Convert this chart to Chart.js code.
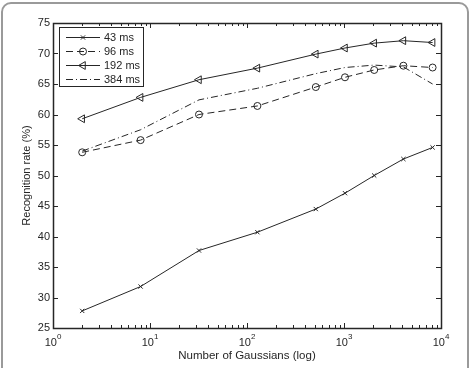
<!DOCTYPE html>
<html>
<head>
<meta charset="utf-8">
<script src="https://cdn.jsdelivr.net/npm/chart.js@4"></script>
<style>
    body { margin: 0; background: #fff; }
    #wrap { position: relative; width: 472px; height: 368px; overflow: hidden; }
    #frame { position: absolute; left: 1px; top: 2px; width: 464px; height: 420px; border: 2px solid #9a9a9a; border-radius: 10px; }
    #chart { position: absolute; left: 0; top: 0; }
</style>
</head>
<body>
<div id="wrap">
    <div id="frame"></div>
    <canvas id="chart" width="472" height="368"></canvas>
</div>
<script>
const gaussians = [2, 8, 32, 128, 512, 1024, 2048, 4096, 8192];
const rate43 = [27.8, 31.8, 37.7, 40.7, 44.5, 47.1, 50.0, 52.7, 54.6];
const rate96 = [53.8, 55.8, 60.0, 61.4, 64.5, 66.1, 67.3, 68.0, 67.7];
const rate192 = [59.3, 62.8, 65.7, 67.6, 69.9, 70.9, 71.7, 72.1, 71.8];
const rate384 = [54.0, 57.5, 62.4, 64.3, 66.7, 67.7, 68.1, 67.8, 65.0];
const seriesLabels = ['43 ms', '96 ms', '192 ms', '384 ms'];
const xExponents = [0, 1, 2, 3, 4];
const yTicks = [25, 30, 35, 40, 45, 50, 55, 60, 65, 70, 75];

const FONT = '"Liberation Sans", Arial, Helvetica, sans-serif';
const INK = '#262626';

const toPoints = values => values.map((v, i) => ({ x: gaussians[i], y: v }));

const matlabAxes = {
    id: 'matlabAxes',
    afterDatasetsDraw(chart) {
        const ctx = chart.ctx;
        const area = chart.chartArea;
        const xs = chart.scales.x;
        const ys = chart.scales.y;
        ctx.save();
        ctx.strokeStyle = INK;
        ctx.lineWidth = 1;
        ctx.beginPath();
        // x ticks, inward on bottom and top
        xExponents.forEach(e => {
            const mults = e < 4 ? [1, 2, 3, 4, 5, 6, 7, 8, 9] : [1];
            mults.forEach(m => {
                const px = Math.round(xs.getPixelForValue(m * Math.pow(10, e))) + 0.5;
                const len = m === 1 ? 5 : 3;
                ctx.moveTo(px, area.bottom);
                ctx.lineTo(px, area.bottom - len);
                ctx.moveTo(px, area.top);
                ctx.lineTo(px, area.top + len);
            });
        });
        // y ticks, inward on left and right
        yTicks.forEach(v => {
            const py = Math.round(ys.getPixelForValue(v)) + 0.5;
            ctx.moveTo(area.left, py);
            ctx.lineTo(area.left + 5, py);
            ctx.moveTo(area.right, py);
            ctx.lineTo(area.right - 5, py);
        });
        ctx.stroke();
        ctx.lineWidth = 1.5;
        ctx.strokeRect(Math.round(area.left) + 0.5, Math.round(area.top) + 0.5,
            Math.round(area.right - area.left), Math.round(area.bottom - area.top));

        // x tick labels 10^n
        ctx.fillStyle = INK;
        ctx.textBaseline = 'alphabetic';
        ctx.textAlign = 'left';
        xExponents.forEach(e => {
            const px = xs.getPixelForValue(Math.pow(10, e));
            ctx.font = '11px ' + FONT;
            const wBase = ctx.measureText('10').width;
            ctx.font = '8px ' + FONT;
            const wExp = ctx.measureText(String(e)).width;
            const start = px - (wBase + wExp) / 2;
            ctx.font = '11px ' + FONT;
            ctx.fillText('10', start, 346);
            ctx.font = '8px ' + FONT;
            ctx.fillText(String(e), start + wBase, 339);
        });
        ctx.restore();
    },
    afterDraw(chart) {
        const ctx = chart.ctx;
        ctx.save();
        ctx.fillStyle = '#fff';
        ctx.fillRect(59, 27, 84, 60);
        ctx.strokeStyle = INK;
        ctx.lineWidth = 1;
        ctx.strokeRect(59.5, 27.5, 84, 59);
        chart.data.datasets.forEach((ds, i) => {
            const y = 37.5 + i * 14;
            ctx.strokeStyle = ds.borderColor;
            ctx.lineWidth = ds.borderWidth;
            ctx.setLineDash(ds.borderDash || []);
            ctx.beginPath();
            ctx.moveTo(66, y);
            ctx.lineTo(100, y);
            ctx.stroke();
            ctx.setLineDash([]);
            if (ds.pointRadius > 0) {
                ctx.fillStyle = 'rgba(0,0,0,0)';
                Chart.helpers.drawPoint(ctx, {
                    pointStyle: ds.pointStyle,
                    rotation: ds.pointRotation || 0,
                    radius: ds.pointRadius,
                    borderWidth: ds.pointBorderWidth
                }, 83, y);
            }
            ctx.fillStyle = INK;
            ctx.font = '11px ' + FONT;
            ctx.textBaseline = 'middle';
            ctx.textAlign = 'left';
            ctx.fillText(ds.label, 104, y);
        });
        ctx.restore();
    }
};

const baseSet = {
    borderColor: INK,
    borderWidth: 1,
    pointBorderColor: INK,
    pointBackgroundColor: 'rgba(0,0,0,0)',
    pointBorderWidth: 1,
    tension: 0
};

new Chart(document.getElementById('chart'), {
    type: 'line',
    data: {
        datasets: [
            { ...baseSet, label: seriesLabels[0], data: toPoints(rate43), pointStyle: 'crossRot', pointRadius: 3 },
            { ...baseSet, label: seriesLabels[1], data: toPoints(rate96), borderDash: [7, 4], pointStyle: 'circle', pointRadius: 3.5 },
            { ...baseSet, label: seriesLabels[2], data: toPoints(rate192), pointStyle: 'triangle', pointRotation: 270, pointRadius: 4.5 },
            { ...baseSet, label: seriesLabels[3], data: toPoints(rate384), borderDash: [7, 3, 1, 3], pointRadius: 0 }
        ]
    },
    options: {
        responsive: false,
        animation: false,
        layout: { padding: { top: 23, right: 31, left: 0, bottom: 0 } },
        plugins: {
            legend: { display: false },
            tooltip: { enabled: false }
        },
        scales: {
            x: {
                type: 'logarithmic',
                min: 1,
                max: 10000,
                grid: { display: false, drawTicks: false },
                border: { display: false },
                ticks: { display: false },
                title: {
                    display: true,
                    text: 'Number of Gaussians (log)',
                    color: INK,
                    font: { family: FONT, size: 11.5 },
                    padding: { top: 0, bottom: 5 }
                },
                afterFit: s => { s.height = 40; }
            },
            y: {
                min: 25,
                max: 75,
                grid: { display: false, drawTicks: false },
                border: { display: false },
                ticks: {
                    stepSize: 5,
                    padding: 3,
                    color: INK,
                    font: { family: FONT, size: 11 }
                },
                title: {
                    display: true,
                    text: 'Recognition rate (%)',
                    color: INK,
                    font: { family: FONT, size: 11 },
                    padding: { top: 20, bottom: 0 }
                },
                afterFit: s => { s.width = 53; }
            }
        }
    },
    plugins: [matlabAxes]
});
</script>
</body>
</html>
